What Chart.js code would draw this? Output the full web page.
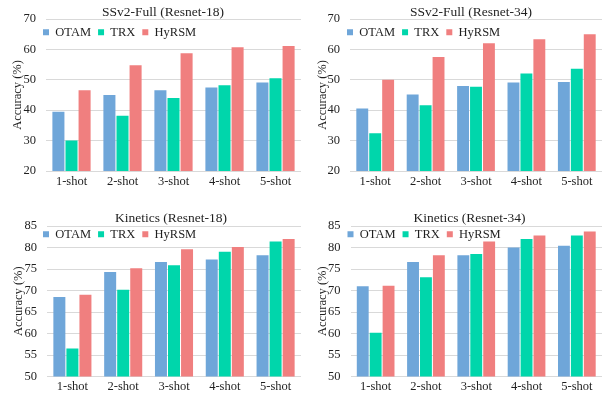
<!DOCTYPE html>
<html>
<head>
<meta charset="utf-8">
<script src="https://cdn.jsdelivr.net/npm/chart.js@4.4.0/dist/chart.umd.min.js"></script>
<style>
  html, body { margin: 0; padding: 0; background: #ffffff; }
  #wrap { position: relative; width: 602px; height: 394px; overflow: hidden; }
  .cell { position: absolute; width: 301px; height: 197px; }
</style>
</head>
<body>
<div id="wrap">
  <div class="cell" style="left:0;top:0"><canvas id="c1"></canvas></div>
  <div class="cell" style="left:301px;top:0"><canvas id="c2"></canvas></div>
  <div class="cell" style="left:0;top:197px"><canvas id="c3"></canvas></div>
  <div class="cell" style="left:301px;top:197px"><canvas id="c4"></canvas></div>
</div>
<script>
// ---- data ----
const shots = ['1-shot', '2-shot', '3-shot', '4-shot', '5-shot'];
const methods = ['OTAM', 'TRX', 'HyRSM'];
const titles = ['SSv2-Full (Resnet-18)', 'SSv2-Full (Resnet-34)', 'Kinetics (Resnet-18)', 'Kinetics (Resnet-34)'];
const yAxisTitle = 'Accuracy (%)';

const ssv2R18_OTAM  = [39.5, 45.0, 46.6, 47.5, 49.1];
const ssv2R18_TRX   = [30.0, 38.2, 44.0, 48.2, 50.5];
const ssv2R18_HyRSM = [46.6, 54.8, 58.7, 60.7, 61.1];

const ssv2R34_OTAM  = [40.6, 45.2, 48.0, 49.1, 49.3];
const ssv2R34_TRX   = [32.4, 41.6, 47.7, 52.1, 53.6];
const ssv2R34_HyRSM = [50.0, 57.5, 62.0, 63.3, 65.0];

const kinR18_OTAM  = [68.5, 74.3, 76.6, 77.2, 78.2];
const kinR18_TRX   = [56.5, 70.2, 75.9, 79.0, 81.4];
const kinR18_HyRSM = [69.0, 75.2, 79.6, 80.1, 82.0];

const kinR34_OTAM  = [71.0, 76.6, 78.2, 80.0, 80.4];
const kinR34_TRX   = [60.2, 73.1, 78.5, 82.0, 82.8];
const kinR34_HyRSM = [71.1, 78.2, 81.4, 82.8, 83.7];

const ssv2Ticks = { min: 20, max: 70, step: 10 };
const kinTicks  = { min: 50, max: 85, step: 5 };

// ---- styles ----
const COLORS = ['#6fa6d9', '#00d6ab', '#f07f7f'];
const FONT = "'Liberation Serif', 'Times New Roman', serif";
const TEXT = '#1f1f1f';

// plugin: put legend inside plot area and position the title
const placeBoxes = {
  id: 'placeBoxes',
  beforeUpdate(chart) {
    const lg = chart.legend;
    if (lg && !lg.__patched) {
      const fit = lg.fit;
      lg.fit = function () { fit.call(this); this.height = 0; };
      lg.__patched = true;
    }
  },
  afterLayout(chart, args, o) {
    const a = chart.chartArea;
    const lg = chart.legend;
    if (lg) {
      lg.left = a.left + o.legendDx;
      lg.right = lg.left + 240;
      lg.top = a.top + o.legendDy;
      lg.bottom = lg.top + 30;
      lg.width = 240; lg.height = 30;
    }
    const t = chart.titleBlock;
    if (t) {
      const lh = t.options.font.size * 1.2;
      t.left = o.titleCx - 140;
      t.right = o.titleCx + 140;
      t.top = o.titleCy - lh / 2 - (t._padding ? t._padding.top : 0);
      t.bottom = t.top + lh;
    }
  }
};

function makeChart(id, title, series, ticks, L) {
  return new Chart(document.getElementById(id), {
    type: 'bar',
    data: {
      labels: shots,
      datasets: methods.map((m, i) => ({
        label: m,
        data: series[i],
        backgroundColor: COLORS[i],
        borderWidth: 0,
        categoryPercentage: 0.77,
        barPercentage: 0.92
      }))
    },
    plugins: [placeBoxes],
    options: {
      responsive: true,
      maintainAspectRatio: false,
      animation: false,
      layout: { padding: { left: 0, right: 0, top: 0, bottom: 0 } },
      plugins: {
        placeBoxes: L,
        tooltip: { enabled: false },
        title: {
          display: true,
          text: title,
          color: TEXT,
          font: { family: FONT, size: 13.5, weight: 'normal', lineHeight: 1.2 },
          padding: { top: 0, bottom: L.titlePadBottom }
        },
        legend: {
          display: true,
          position: 'top',
          align: 'start',
          labels: {
            boxWidth: 6,
            boxHeight: 6,
            padding: 7,
            color: TEXT,
            font: { family: FONT, size: 12.5 }
          }
        }
      },
      scales: {
        x: {
          grid: { display: false, drawTicks: false },
          border: { display: false },
          ticks: { color: TEXT, font: { family: FONT, size: 12.5 }, padding: 3, maxRotation: 0 },
          afterFit(s) { s.height = L.xh; }
        },
        y: {
          min: ticks.min,
          max: ticks.max,
          grid: { color: '#d9d9d9', lineWidth: 1, drawTicks: false },
          border: { display: false },
          ticks: { stepSize: ticks.step, color: TEXT, font: { family: FONT, size: 12.5 }, padding: 10 },
          title: {
            display: true,
            text: yAxisTitle,
            color: TEXT,
            font: { family: FONT, size: 12.5 },
            padding: { top: L.yTitlePad, bottom: 0 }
          },
          afterFit(s) { s.width = L.areaLeft; }
        }
      }
    }
  });
}

makeChart('c1', titles[0], [ssv2R18_OTAM, ssv2R18_TRX, ssv2R18_HyRSM], ssv2Ticks,
  { areaLeft: 46, yTitlePad: 10.5, titleCx: 163, titleCy: 12.7, titlePadBottom: 2.8, xh: 26, legendDx: -10, legendDy: 0 });
makeChart('c2', titles[1], [ssv2R34_OTAM, ssv2R34_TRX, ssv2R34_HyRSM], ssv2Ticks,
  { areaLeft: 49, yTitlePad: 14, titleCx: 170, titleCy: 12.7, titlePadBottom: 2.8, xh: 26, legendDx: -10, legendDy: 0 });
makeChart('c3', titles[2], [kinR18_OTAM, kinR18_TRX, kinR18_HyRSM], kinTicks,
  { areaLeft: 47, yTitlePad: 11, titleCx: 171, titleCy: 21.7, titlePadBottom: 12.8, xh: 16.3, legendDx: -11, legendDy: -5 });
makeChart('c4', titles[3], [kinR34_OTAM, kinR34_TRX, kinR34_HyRSM], kinTicks,
  { areaLeft: 49.5, yTitlePad: 14, titleCx: 168.5, titleCy: 21.7, titlePadBottom: 12.8, xh: 16.3, legendDx: -10, legendDy: -5 });
</script>
</body>
</html>
